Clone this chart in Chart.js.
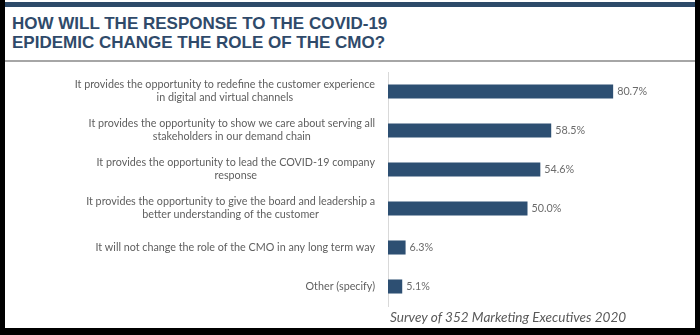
<!DOCTYPE html>
<html>
<head>
<meta charset="utf-8">
<script src="https://cdn.jsdelivr.net/npm/chart.js@4"></script>
<style>
  html, body { margin: 0; padding: 0; background: #000; }
  #page { position: absolute; left: 5px; top: 0; width: 690px; height: 328px; background: #fff; overflow: hidden; }
  #band { position: absolute; left: 0; top: 2px; width: 690px; height: 5px; background: #2d4a69; }
  #title { position: absolute; left: 7px; top: 14px; font: bold 17px "Liberation Sans", Arial, sans-serif; line-height: 19px; color: #2f4a6a; }
  #rule { position: absolute; left: 0; top: 60px; width: 690px; height: 2px; background: #a6a6a6; }
  #chartBox { position: absolute; left: 0; top: 63px; width: 690px; height: 265px; }
  #note { position: absolute; left: 385px; top: 308px; font: italic 13.6px Lato, sans-serif; color: #595959; line-height: 18px; }
</style>
</head>
<body>
<div id="page">
  <div id="band"></div>
  <div id="title">HOW WILL THE RESPONSE TO THE COVID-19<br>EPIDEMIC CHANGE THE ROLE OF THE CMO?</div>
  <div id="rule"></div>
  <div id="chartBox"><canvas id="chart"></canvas></div>
  <div id="note">Survey of 352 Marketing Executives 2020</div>
</div>
<script>
// answer labels, one array of lines per bar
const categories = [
    ['It provides the opportunity to redefine the customer experience', 'in digital and virtual channels'],
    ['It provides the opportunity to show we care about serving all', 'stakeholders in our demand chain'],
    ['It provides the opportunity to lead the COVID-19 company', 'response'],
    ['It provides the opportunity to give the board and leadership a', 'better understanding of the customer'],
    ['It will not change the role of the CMO in any long term way'],
    ['Other (specify)']
];
const shares = [80.7, 58.5, 54.6, 50.0, 6.3, 5.1];

const labelFont = '10.75px Lato, sans-serif';
const textGrey = '#5e5e5e';

// draws the wrapped category labels (each block centred, right aligned to the axis) and the value labels
const labelPlugin = {
    id: 'labels',
    afterDraw(chart) {
        const ctx = chart.ctx;
        const x = chart.scales.x;
        const y = chart.scales.y;
        const right = chart.chartArea.left - 13;
        ctx.save();
        ctx.font = labelFont;
        ctx.fillStyle = textGrey;
        ctx.textBaseline = 'middle';
        ctx.textAlign = 'center';
        categories.forEach((lines, i) => {
            const cy = y.getPixelForValue(i);
            const widest = Math.max(...lines.map(l => ctx.measureText(l).width));
            const cx = right - widest / 2;
            const lh = 13;
            const top = cy - (lines.length - 1) * lh / 2;
            lines.forEach((l, j) => ctx.fillText(l, cx, top + j * lh));
        });
        ctx.textAlign = 'left';
        ctx.fillStyle = '#6b6b6b';
        shares.forEach((v, i) => {
            ctx.fillText(v.toFixed(1) + '%', x.getPixelForValue(v) + 4, y.getPixelForValue(i));
        });
        ctx.restore();
    }
};

new Chart(document.getElementById('chart'), {
    type: 'bar',
    data: {
        labels: categories,
        datasets: [{
            data: shares,
            backgroundColor: '#2d4f72',
            barPercentage: 0.36,
            categoryPercentage: 1
        }]
    },
    options: {
        indexAxis: 'y',
        responsive: true,
        maintainAspectRatio: false,
        animation: false,
        layout: { padding: { top: 9, bottom: 22, right: 28, left: 0 } },
        scales: {
            x: { display: false, min: 0, max: 100 },
            y: {
                ticks: { display: false },
                grid: { display: false, drawTicks: false },
                border: { display: true, color: '#d9d9d9', width: 1 },
                afterFit: s => { s.width = 383; }
            }
        },
        plugins: {
            legend: { display: false },
            tooltip: { enabled: false }
        }
    },
    plugins: [labelPlugin]
});
</script>
</body>
</html>
